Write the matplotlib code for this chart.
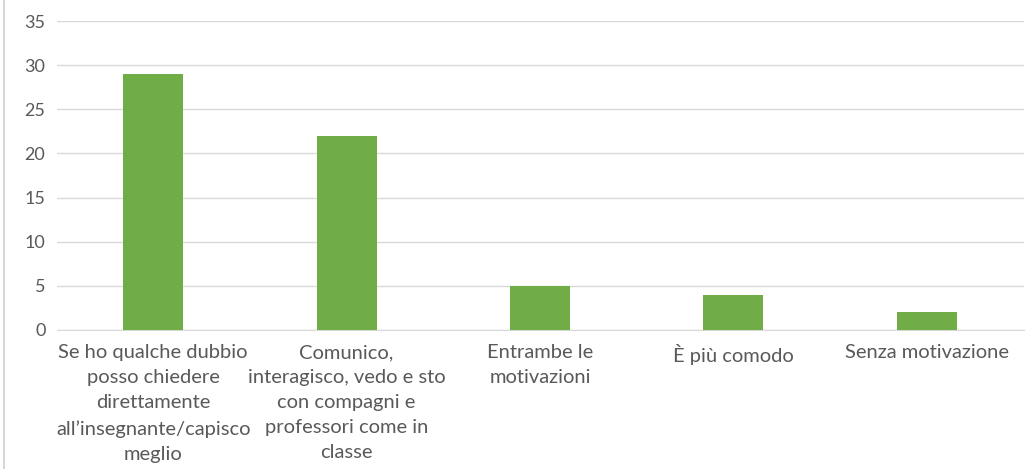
import matplotlib
matplotlib.use("Agg")
import matplotlib.pyplot as plt
from matplotlib.lines import Line2D

categories = [
    "Se ho qualche dubbio\nposso chiedere\ndirettamente\nall\u2019insegnante/capisco\nmeglio",
    "Comunico,\ninteragisco, vedo e sto\ncon compagni e\nprofessori come in\nclasse",
    "Entrambe le\nmotivazioni",
    "\u00c8 pi\u00f9 comodo",
    "Senza motivazione",
]
values = [29, 22, 5, 4, 2]
yticks = [0, 5, 10, 15, 20, 25, 30, 35]

plt.rcParams['font.family'] = ['Lato', 'DejaVu Sans']

fig = plt.figure(figsize=(10.35, 4.69), dpi=100)
ax = fig.add_axes([0.0546, 0.2964, 0.9343, 0.6588])

x = list(range(len(categories)))
ax.bar(x, values, width=0.31, color="#70AD47", zorder=3)
ax.set_xlim(-0.5, len(categories) - 0.5)
ax.set_ylim(0, 35)
ax.set_yticks(yticks)
ax.grid(axis="y", color="#D9D9D9", linewidth=1, zorder=0)
for s in ["top", "right", "left"]:
    ax.spines[s].set_visible(False)
ax.spines["bottom"].set_color("#D9D9D9")
ax.tick_params(axis="both", length=0, colors="#595959")
ax.tick_params(axis="y", pad=8, labelsize=13)
ax.tick_params(axis="x", pad=10, labelsize=14.5)
ax.set_xticks(x)
ax.set_xticklabels(categories, linespacing=1.58, color="#595959")

fig.add_artist(Line2D([3.5 / 1035, 3.5 / 1035], [0, 1], transform=fig.transFigure,
                      color="#D0D0D0", linewidth=1.2))

fig.savefig("out.png", dpi=100)
